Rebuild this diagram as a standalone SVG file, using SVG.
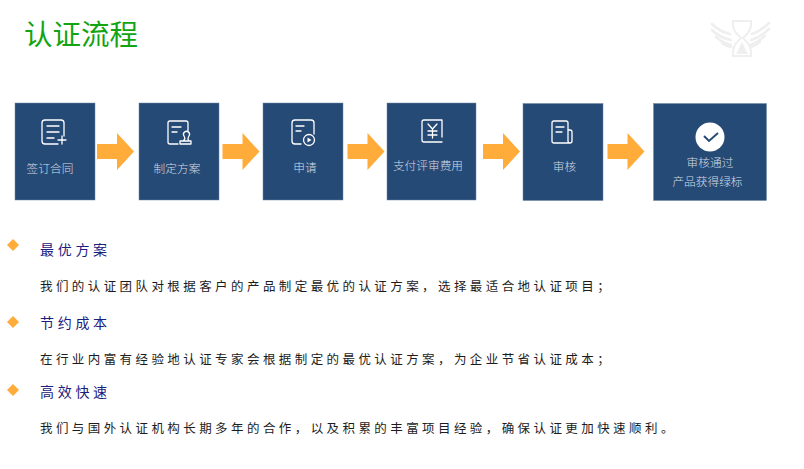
<svg xmlns="http://www.w3.org/2000/svg" width="804" height="469" viewBox="0 0 804 469">
<style>
text{font-family:"Noto Sans CJK SC","Liberation Sans",sans-serif}
.box{fill:#264a76;stroke:#6f87a3;stroke-width:.5}
.lb{fill:#d3dae3;font-size:11.700px;text-anchor:middle;font-weight:300}
.ic{fill:none;stroke:#fff;stroke-width:1.3;stroke-linecap:round;stroke-linejoin:round}
.ar{fill:#ffac3b}
.dm{fill:#ffac3b}
.h{fill:#1a2080;font-size:14px;letter-spacing:3.700px}
.t{fill:#1c1c1c;font-size:12.500px;letter-spacing:3.420px}
.w{fill:none;stroke:#efefef;stroke-width:2.600;stroke-linecap:round}
</style>
<rect width="804" height="469" fill="#fff"/>
<text x="24" y="44.500" font-size="28.500" fill="#12a412">认证流程</text>
<g id="logo">
<path d="M733 21h18q1 9-6 15l-2 2 2 2q7 6 6 16h-18q-1-10 6-16l2-2-2-2q-7-6-6-15z" fill="none" stroke="#efefef" stroke-width="2"/>
<path d="M742 42l6 12h-12z" fill="#efefef"/>
<path class="w" d="M712 24q8 8 18 10M712 30q8 8 19 10M716 37q7 6 15 8M722 43q4 3 9 4"/>
<path class="w" d="M769 23q-8 8-17 11M769 29q-8 8-18 11M765 36q-7 6-14 9M760 42q-4 3-9 5"/>
</g>
<g id="connectors">
<path class="ar" d="M97 144h20v-11l17 18.500-17 18.500v-11h-20z"/>
<path class="ar" d="M222.500 144h20v-11l17 18.500-17 18.500v-11h-20z"/>
<path class="ar" d="M347.500 144h20v-11l17 18.500-17 18.500v-11h-20z"/>
<path class="ar" d="M483 144h20v-11l17 18.500-17 18.500v-11h-20z"/>
<path class="ar" d="M607.500 144h20v-11l17 18.500-17 18.500v-11h-20z"/>
</g>
<g id="n1">
<rect class="box" x="15" y="103" width="80" height="97"/>
<path class="ic" d="M58 144h-13q-3 0-3-3v-18q0-3 3-3h16q3 0 3 3v13M47 126h12M47 132h12M47 138h7M58 140h8M62 136v8"/>
<text class="lb" x="50" y="172.500">签订合同</text>
</g>
<g id="n2">
<rect class="box" x="139" y="103" width="80" height="97"/>
<path class="ic" d="M178 144h-8q-2 0-2-2v-19q0-2 2-2h16q2 0 2 2v9M172 127h9M172 132h5M180 144h11v-3h-11zM183 141q3-2 1-5a3 3 0 1 1 5 0q-2 3 0 5"/>
<text class="lb" x="177" y="172.500">制定方案</text>
</g>
<g id="n3">
<rect class="box" x="263" y="103" width="80" height="97"/>
<path class="ic" d="M301 144h-6q-3 0-3-3v-18q0-3 3-3h16q3 0 3 3v11M296 126h8M296 131h5"/>
<circle class="ic" cx="309" cy="140" r="5.500"/>
<path d="M307.500 137.500l4 2.500-4 2.500z" fill="#fff"/>
<text class="lb" x="305" y="172">申请</text>
</g>
<g id="n4">
<rect class="box" x="387" y="103" width="89" height="97"/>
<path class="ic" d="M442 120h-18q-2 0-2 2v18q0 2 2 2h18M442 120v17"/>
<path class="ic" d="M428 124l4.500 5 4.500-5M432.500 129v9M428 131h9M428 135h9"/>
<text class="lb" x="428" y="170">支付评审费用</text>
</g>
<g id="n5">
<rect class="box" x="523" y="103.500" width="80" height="97"/>
<path class="ic" d="M570 143h-16q-2 0-2-2v-18q0-2 2-2h12q2 0 2 2v18q0 2 2 2q2 0 2-2v-9q0-2-2-2h-2M556 127h8M556 132h6"/>
<text class="lb" x="564.500" y="171">审核</text>
</g>
<g id="n6">
<rect class="box" x="653.500" y="103.500" width="113" height="97"/>
<circle cx="710" cy="137" r="14.500" fill="#fff"/>
<path d="M704 136l5 5 9-8" fill="none" stroke="#264a76" stroke-width="2"/>
<text class="lb" x="710" y="167">审核通过</text>
<text class="lb" x="707.500" y="186">产品获得绿标</text>
</g>
<g id="list">
<path class="dm" d="M13 239l6 6-6 6-6-6z"/>
<text class="h" x="40" y="255">最优方案</text>
<text class="t" x="40" y="291">我们的认证团队对根据客户的产品制定最优的认证方案，选择最适合地认证项目；</text>
<path class="dm" d="M13 316l6 6-6 6-6-6z"/>
<text class="h" x="40" y="328">节约成本</text>
<text class="t" x="40" y="364">在行业内富有经验地认证专家会根据制定的最优认证方案，为企业节省认证成本；</text>
<path class="dm" d="M13 384l6 6-6 6-6-6z"/>
<text class="h" x="40" y="397">高效快速</text>
<text class="t" x="40" y="433">我们与国外认证机构长期多年的合作，以及积累的丰富项目经验，确保认证更加快速顺利。</text>
</g>
</svg>
